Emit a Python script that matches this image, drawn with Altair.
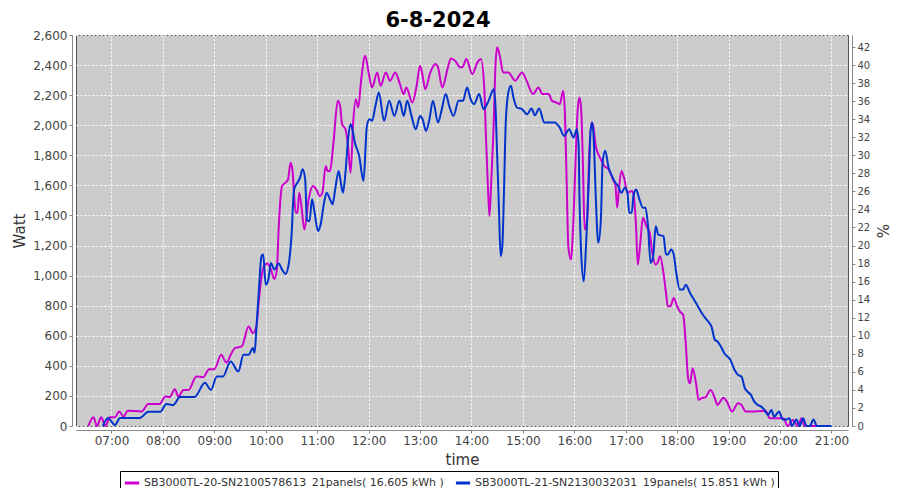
import altair as alt
import pandas as pd

series_names = [
    "SB3000TL-20-SN2100578613_21panels( 16.605 kWh )",
    "SB3000TL-21-SN2130032031_19panels( 15.851 kWh )",
]
series_colors = ["#CC00CC", "#0033CC"]

m_times = ["06:33","06:39","06:43","06:48","06:53","06:58","07:04","07:09","07:14","07:19","07:35","07:43","07:56","08:03","08:08","08:14","08:18","08:24","08:30","08:39","08:47","08:54","09:00","09:08","09:14","09:20","09:24","09:32","09:40","09:45","09:49","09:52","09:55","09:58","10:02","10:06","10:10","10:13","10:15","10:19","10:23","10:26","10:29","10:31","10:35","10:37","10:39","10:42","10:45","10:50","10:55","10:59","11:03","11:06","11:10","11:12","11:15","11:19","11:24","11:27","11:29","11:33","11:36","11:39","11:42","11:45","11:48","11:51","11:56","12:00","12:04","12:10","12:14","12:20","12:25","12:31","12:36","12:41","12:44","12:51","12:56","13:00","13:03","13:06","13:12","13:18","13:21","13:26","13:32","13:36","13:41","13:47","13:50","13:54","14:01","14:07","14:11","14:15","14:17","14:19","14:21","14:23","14:26","14:28","14:30","14:33","14:37","14:43","14:51","14:59","15:04","15:12","15:18","15:23","15:30","15:34","15:39","15:43","15:47","15:49","15:51","15:53","15:56","15:59","16:02","16:04","16:06","16:08","16:10","16:12","16:15","16:17","16:20","16:22","16:25","16:30","16:35","16:40","16:45","16:48","16:50","16:52","16:55","16:58","17:02","17:07","17:09","17:12","17:14","17:17","17:20","17:24","17:28","17:31","17:35","17:37","17:40","17:44","17:47","17:49","17:52","17:56","18:00","18:03","18:07","18:10","18:13","18:15","18:18","18:22","18:25","18:28","18:33","18:39","18:44","18:47","18:54","18:58","19:04","19:11","19:15","19:20","19:28","19:40","19:44","19:48","19:56","20:04","20:09","20:15","20:21","20:25","20:29","20:45"]
m_watts = [0,58,0,58,0,58,58,96,62,102,96,147,147,196,193,244,196,240,240,329,325,378,378,473,422,484,518,529,662,618,662,840,990,1062,1080,1040,978,1040,1307,1596,1618,1640,1751,1707,1418,1418,1551,1440,1307,1507,1596,1573,1529,1551,1729,1696,1696,1884,2162,2118,2007,1973,1862,1684,2018,2173,2118,2284,2462,2351,2251,2351,2262,2351,2296,2351,2284,2207,2251,2151,2262,2396,2329,2240,2351,2407,2384,2251,2373,2444,2429,2384,2390,2440,2340,2418,2440,2240,1907,1618,1396,1618,2018,2396,2518,2462,2351,2351,2296,2351,2300,2207,2251,2207,2207,2162,2151,2140,2229,2084,1640,1196,1107,1373,1862,2107,2184,2107,1751,1307,1373,1751,2018,1996,1862,1784,1729,1707,1640,1600,1451,1573,1696,1651,1551,1562,1540,1329,1073,1218,1384,1329,1284,1151,1073,1084,1129,1018,884,796,796,851,796,762,740,551,307,284,384,284,173,184,191,240,184,140,188,162,96,151,140,96,96,100,96,51,51,51,0,40,0,51,0,0]

b_times = ["06:50","06:56","07:04","07:10","07:33","07:43","07:57","08:04","08:12","08:20","08:37","08:49","08:56","09:03","09:10","09:19","09:28","09:34","09:40","09:45","09:47","09:49","09:52","09:55","09:57","10:00","10:03","10:06","10:10","10:15","10:19","10:23","10:27","10:30","10:33","10:37","10:40","10:43","10:46","10:48","10:51","10:54","10:57","11:01","11:04","11:08","11:11","11:15","11:18","11:21","11:25","11:27","11:30","11:33","11:36","11:39","11:41","11:44","11:49","11:54","11:58","12:01","12:04","12:08","12:12","12:18","12:24","12:30","12:36","12:41","12:45","12:50","12:55","13:00","13:03","13:07","13:11","13:15","13:21","13:25","13:30","13:34","13:39","13:45","13:50","13:55","13:59","14:03","14:09","14:14","14:20","14:26","14:28","14:30","14:32","14:34","14:36","14:38","14:40","14:43","14:46","14:49","14:53","14:59","15:05","15:10","15:14","15:19","15:25","15:30","15:37","15:43","15:48","15:54","15:59","16:03","16:05","16:06","16:08","16:11","16:14","16:17","16:19","16:21","16:23","16:25","16:28","16:31","16:33","16:36","16:40","16:44","16:48","16:51","16:55","16:59","17:02","17:04","17:07","17:09","17:12","17:16","17:20","17:23","17:26","17:29","17:32","17:35","17:38","17:44","17:47","17:49","17:53","17:56","17:59","18:03","18:07","18:10","18:15","18:22","18:30","18:36","18:40","18:44","18:47","18:51","18:55","19:02","19:07","19:11","19:15","19:19","19:22","19:26","19:30","19:34","19:38","19:42","19:46","19:50","19:53","19:59","20:03","20:07","20:11","20:14","20:19","20:23","20:27","20:31","20:35","20:39","20:43","21:00"]
b_watts = [0,53,7,53,53,95,95,147,140,193,193,287,240,329,329,429,362,473,473,518,487,640,907,1129,1140,940,973,1084,1040,1080,1040,1011,1084,1262,1573,1618,1651,1707,1640,1373,1362,1507,1418,1296,1340,1484,1551,1507,1473,1573,1696,1640,1551,1684,1907,2007,1973,1884,1796,1629,1996,2040,2029,2129,2218,2029,2162,2062,2162,2062,2162,2062,1973,2062,2040,1962,2040,2162,2018,2096,2207,2129,2062,2162,2162,2251,2173,2140,2207,2107,2162,2240,2129,1796,1462,1129,1196,1573,2018,2218,2262,2184,2118,2107,2073,2111,2067,2111,2018,2018,2018,1984,1929,1973,1918,1973,1862,1529,1151,962,1240,1640,1962,2018,1862,1529,1218,1373,1751,1830,1718,1662,1618,1596,1551,1584,1551,1418,1418,1529,1573,1507,1451,1451,1329,1084,1129,1329,1273,1262,1140,1140,1173,1140,1018,907,907,940,884,818,740,696,662,573,562,529,484,440,373,340,329,251,229,207,162,140,129,107,73,107,62,96,44,44,51,0,44,0,51,0,0,44,0,0]

x_ticks = list(range(7, 22))
y_ticks = list(range(0, 2601, 200))
pct_ticks = list(range(0, 43, 2))


def to_hours(t):
    h, m = t.split(":")
    return int(h) + int(m) / 60.0


rows = []
for name, times, watts in [(series_names[0], m_times, m_watts), (series_names[1], b_times, b_watts)]:
    for t, w in zip(times, watts):
        rows.append({"series": name, "hours": to_hours(t), "watt": w, "pct": w / 60.0})
df = pd.DataFrame(rows)

x_enc = alt.X(
    "hours:Q",
    scale=alt.Scale(domain=[6.31, 21.322], nice=False, zero=False),
    axis=alt.Axis(
        values=x_ticks,
        labelExpr="(datum.value < 10 ? '0' : '') + datum.value + ':00'",
        title="time",
        grid=True,
        gridColor="white",
        gridDash=[2, 2],
        offset=4,
        titlePadding=6,
    ),
)

lines = alt.Chart(df).mark_line(strokeWidth=2, interpolate="monotone").encode(
    x=x_enc,
    y=alt.Y(
        "watt:Q",
        scale=alt.Scale(domain=[0, 2600], nice=False),
        axis=alt.Axis(
            values=y_ticks,
            format=",d",
            title="Watt",
            grid=True,
            gridColor="white",
            gridDash=[2, 2],
            offset=4,
            titlePadding=5,
        ),
    ),
    color=alt.Color(
        "series:N",
        scale=alt.Scale(domain=series_names, range=series_colors),
        sort=series_names,
        legend=alt.Legend(
            orient="none",
            legendX=44,
            legendY=436,
            direction="horizontal",
            title=None,
            strokeColor="black",
            fillColor="white",
            padding=3,
            labelFont="DejaVu Sans",
            labelFontSize=11,
            labelColor="#333333",
            symbolType="stroke",
            symbolStrokeWidth=3,
            symbolSize=200,
            labelLimit=500,
            columnPadding=5,
            labelOffset=3,
        ),
    ),
    detail="series:N",
)

right = alt.Chart(df).mark_line(opacity=0).encode(
    x=x_enc,
    y=alt.Y(
        "pct:Q",
        scale=alt.Scale(domain=[0, 2600 / 60.0], nice=False),
        axis=alt.Axis(
            orient="right",
            values=pct_ticks,
            title="%",
            grid=False,
            offset=4,
            labelFontSize=10,
            titlePadding=4,
        ),
    ),
    detail="series:N",
)

chart = (
    alt.layer(lines, right)
    .resolve_scale(y="independent")
    .properties(
        width=772,
        height=391,
        autosize=alt.AutoSizeParams(type="none"),
        padding={"left": 68, "top": 27, "right": 44, "bottom": 62},
        title=alt.TitleParams(
            "6-8-2024",
            font="DejaVu Sans",
            fontSize=21,
            fontWeight="bold",
            color="black",
            anchor="middle",
            offset=-2,
            dx=-24,
        ),
        background="white",
    )
    .configure_view(fill="#CCCCCC", stroke="#555555", strokeWidth=1)
    .configure_axis(
        labelFont="DejaVu Sans",
        labelFontSize=12,
        labelColor="#444444",
        titleFont="DejaVu Sans",
        titleFontSize=15,
        titleFontWeight="normal",
        titleColor="#333333",
        domainColor="#888888",
        tickColor="#888888",
        tickSize=3,
        labelPadding=2,
    )
)

chart.save("out.html", embed_options={"renderer": "svg", "actions": False})
